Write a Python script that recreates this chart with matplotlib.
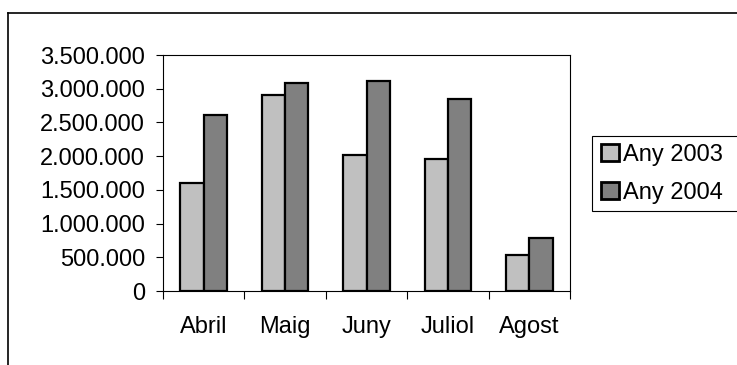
import numpy as np
import matplotlib.pyplot as plt
from matplotlib.ticker import FuncFormatter, FixedLocator
from matplotlib.patches import Rectangle
from matplotlib.lines import Line2D

# =========================
# Dades
# =========================
mesos = ["Abril", "Maig", "Juny", "Juliol", "Agost"]
any_2003 = [1600000, 2910000, 2010000, 1965000, 540000]
any_2004 = [2615000, 3085000, 3110000, 2850000, 790000]
etiquetes = ["Any 2003", "Any 2004"]
colors = ["#C0C0C0", "#808080"]

plt.rcParams["font.family"] = ["Liberation Sans", "DejaVu Sans"]
FS = 17

W, H = 737, 365
fig = plt.figure(figsize=(W / 100, H / 100), dpi=100)
ax = fig.add_axes([163 / W, 1 - 291 / H, 407 / W, 236 / H])

x = np.arange(len(mesos))
w = 1 / 3.5
b1 = ax.bar(x - w / 2, any_2003, w, color=colors[0], edgecolor="black", linewidth=1.6)
b2 = ax.bar(x + w / 2, any_2004, w, color=colors[1], edgecolor="black", linewidth=1.6)

ax.set_xlim(-0.5, len(mesos) - 0.5)
ax.set_ylim(0, 3500000)
ax.set_yticks(np.arange(0, 3500001, 500000))
ax.yaxis.set_major_formatter(FuncFormatter(lambda v, p: f"{int(v):,}".replace(",", ".")))

ax.set_xticks(x)
ax.set_xticklabels(mesos)
ax.xaxis.set_minor_locator(FixedLocator(np.arange(-0.5, len(mesos), 1.0)))
ax.tick_params(axis="x", which="major", length=0, pad=18, labelsize=FS)
ax.tick_params(axis="x", which="minor", length=5.5, width=0.8, direction="out")
ax.tick_params(axis="y", length=5, width=0.8, direction="out", pad=8, labelsize=FS)

for s in ax.spines.values():
    s.set_linewidth(0.8)
    s.set_color("black")

# marc exterior
fig.add_artist(Line2D([8 / W, 8 / W], [0, 1 - 13 / H], transform=fig.transFigure,
                      color="black", linewidth=1.2))
fig.add_artist(Line2D([8 / W, 1], [1 - 13 / H, 1 - 13 / H], transform=fig.transFigure,
                      color="black", linewidth=1.2))

# llegenda
fig.add_artist(Rectangle((592 / W, 1 - 211 / H), 160 / W, 75 / H, transform=fig.transFigure,
                         facecolor="white", edgecolor="black", linewidth=0.8, clip_on=False))
leg = fig.legend([b1, b2], etiquetes, loc="upper left",
                 bbox_to_anchor=(601 / W, 1 - 144 / H), frameon=False, fontsize=FS,
                 handlelength=0.75, handleheight=0.75, handletextpad=0.2,
                 labelspacing=0.68, borderpad=0, borderaxespad=0)
for h in leg.legend_handles:
    h.set_linewidth(2)

plt.savefig("out.png", dpi=100)
